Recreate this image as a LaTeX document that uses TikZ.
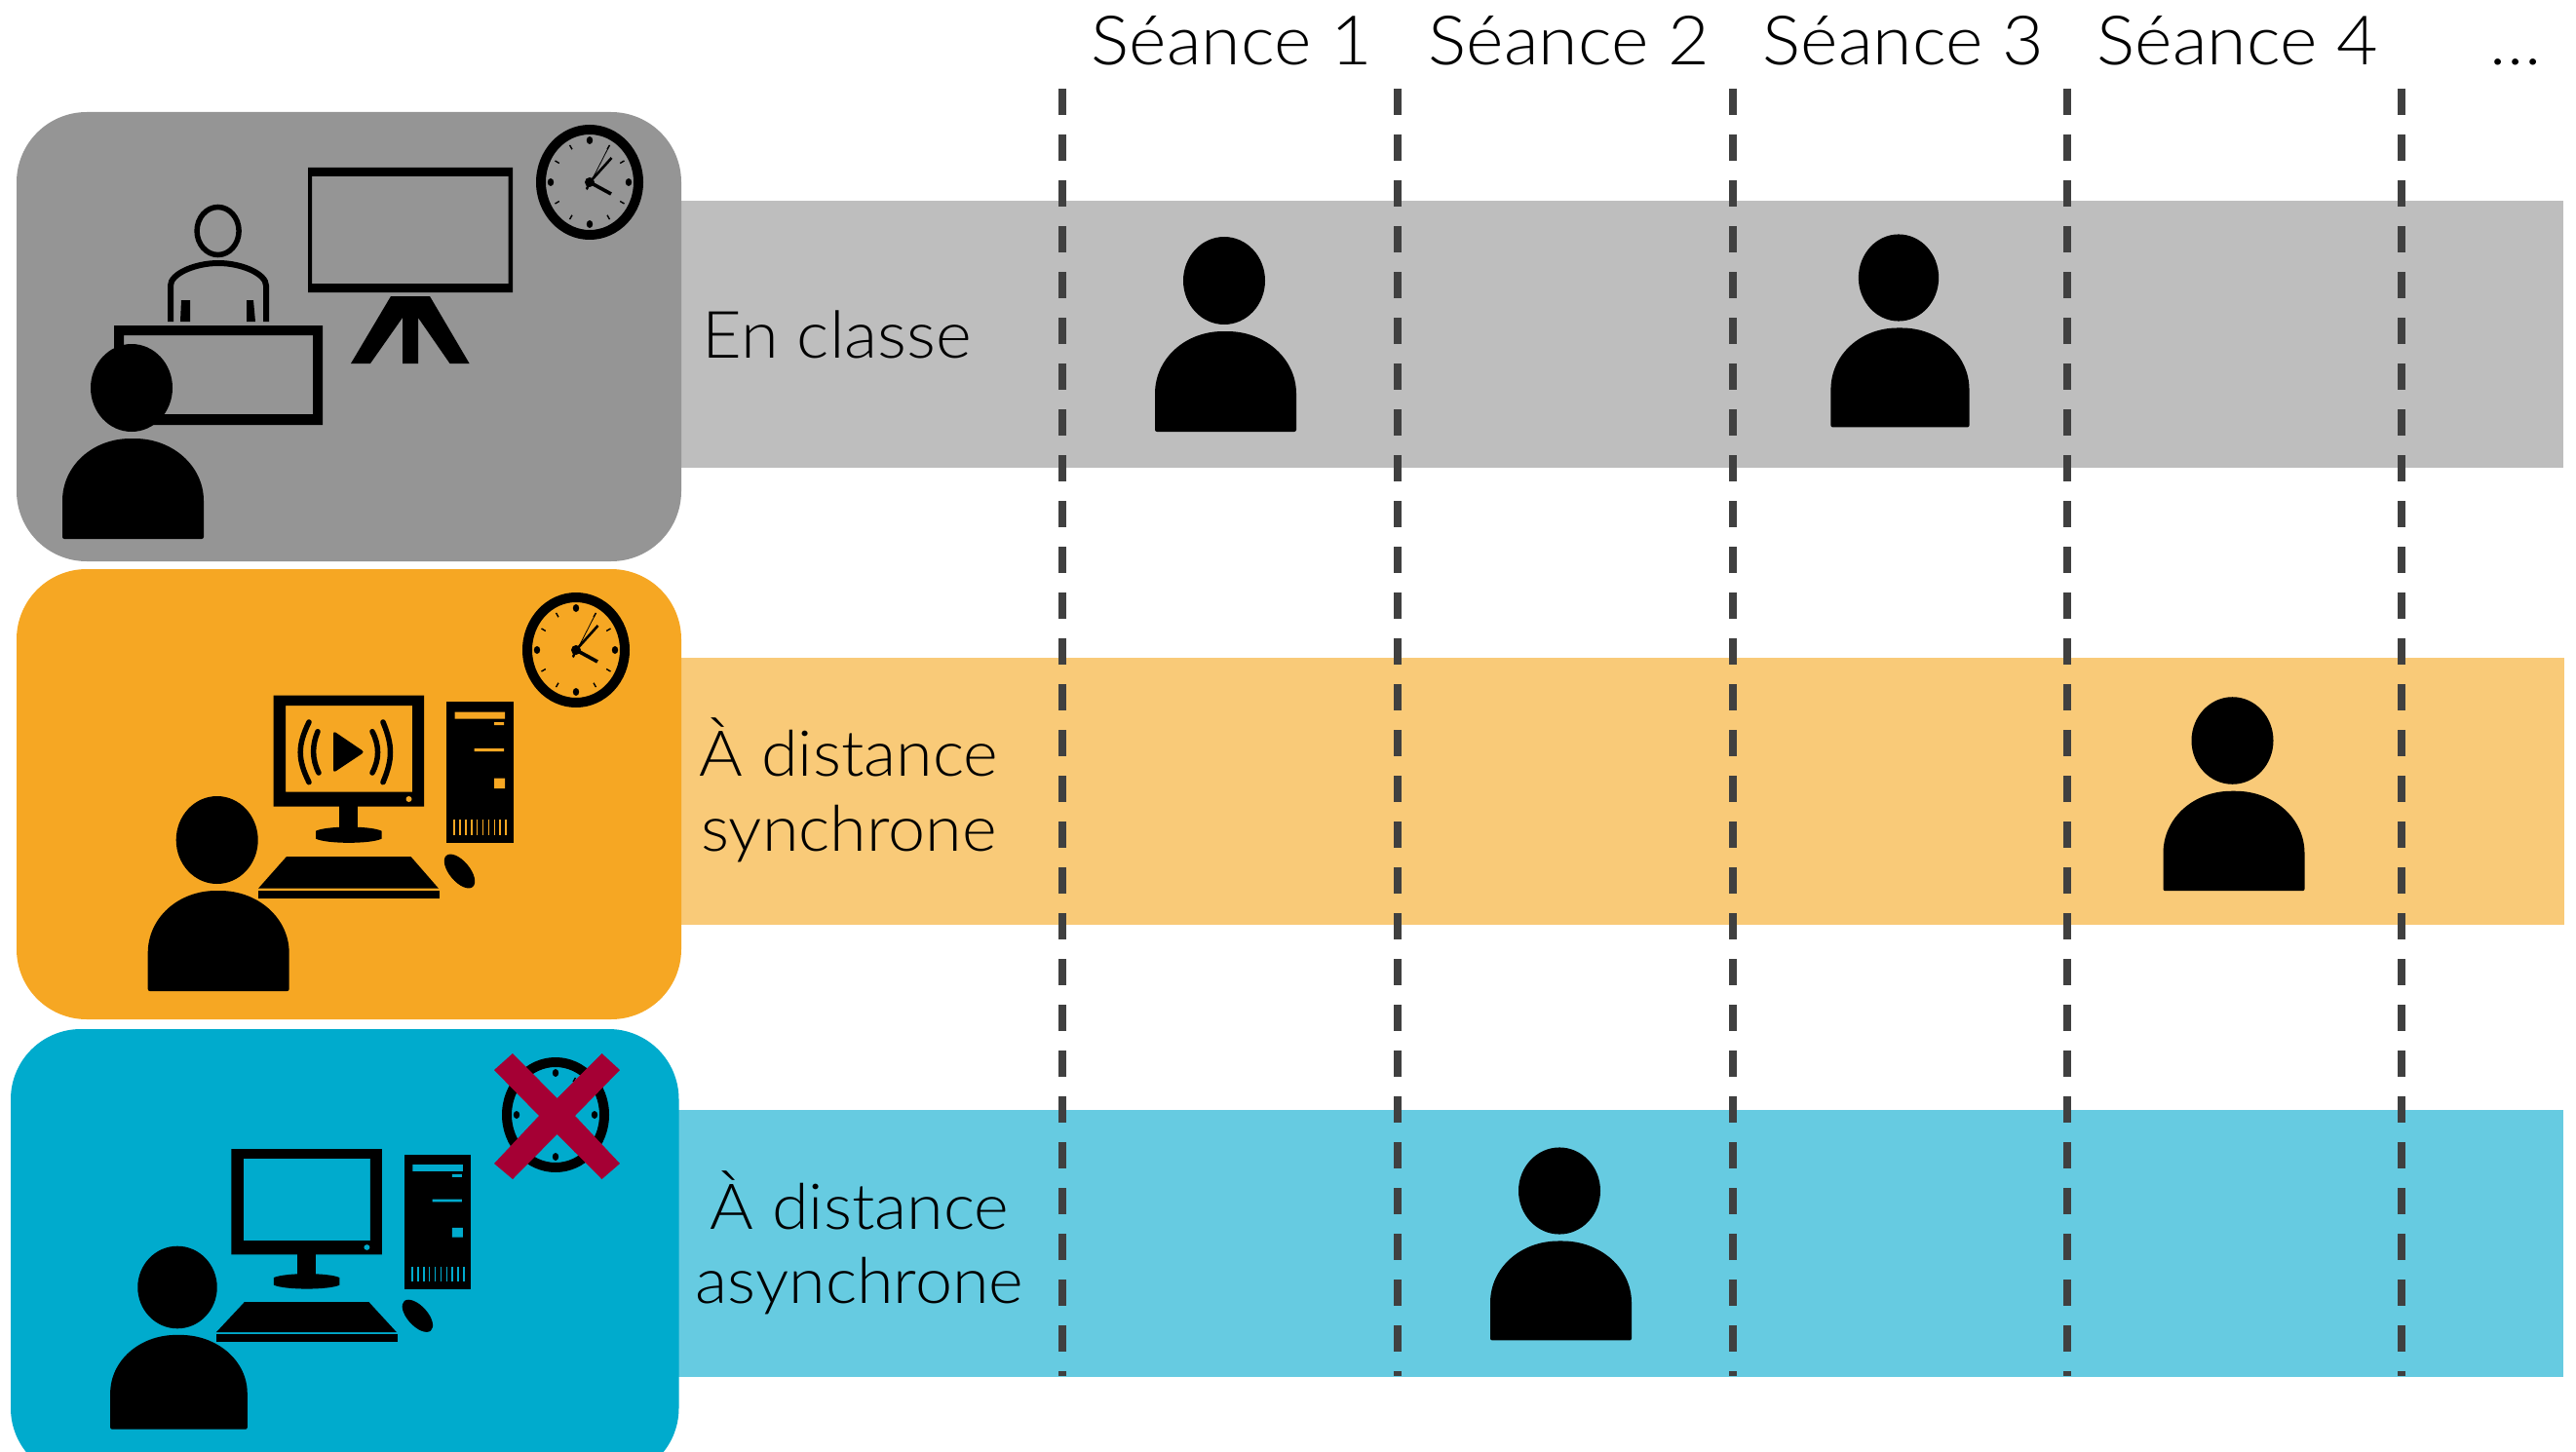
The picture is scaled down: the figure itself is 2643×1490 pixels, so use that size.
\documentclass[tikz,border=0pt]{standalone}
\usepackage{fontspec}
\setmainfont[FakeStretch=1.05]{Lato Light}
\definecolor{panelgray}{HTML}{959595}
\definecolor{bandgray}{HTML}{BEBEBE}
\definecolor{panelorange}{HTML}{F6A723}
\definecolor{bandorange}{HTML}{F9CA78}
\definecolor{panelblue}{HTML}{00ABCD}
\definecolor{bandblue}{HTML}{66CBE1}
\definecolor{crossred}{HTML}{A50034}
\definecolor{dashgray}{HTML}{404040}
\newcommand{\drawperson}[2]{%
 \begin{scope}[shift={(#1)},#2]
  \fill (0,0) ellipse [x radius=42,y radius=45];
  \fill[rounded corners=2] (-71,155) -- (-71,118) .. controls (-71,80) and (-40,52) .. (1,52) .. controls (42,52) and (74,80) .. (74,118) -- (74,155) -- cycle;
 \end{scope}}
\newcommand{\drawclock}[3]{%
 \begin{scope}[shift={(#1)}]
  \fill[even odd rule] (0,0) ellipse [x radius=55,y radius=59] (0,0) ellipse [x radius=45,y radius=49];
  \foreach \a in {0,90,180,270} \fill ({40*cos(\a)},{43*sin(\a)}) ellipse [x radius=3.2,y radius=4];
  \foreach \a in {30,60,120,150,210,240,300,330}
   \draw[line width=1.4] ({36*cos(\a)},{39*sin(\a)}) -- ({41*cos(\a)},{44*sin(\a)});
  #3
 \end{scope}}
\newcommand{\clockhands}{%
  \fill (0,0) circle [radius=5];
  \draw[line width=3.6] (0,0) -- (22,12);
  \draw[line width=2.6] (0,0) -- (22.5,-25);
  \draw[line width=.8] (-3,8) -- (20,-37);
  \draw[line width=2.4] (-3,7) -- (0,0);}
\newcommand{\drawcomputer}[3]{%
 \begin{scope}[shift={(#1)},yscale=#2]
  \fill[even odd rule] (0,0) rectangle (154.5,114) (12.5,10.3) rectangle (142.5,99);
  \fill[#3] (139,106.3) ellipse [x radius=3,y radius=3];
  \fill (67.5,113) rectangle (86.5,136);
  \fill (43.5,139) .. controls (55,133.5) and (100,133.5) .. (111,139) -- (111,147) .. controls (100,152.5) and (55,152.5) .. (43.5,147) -- cycle;
  \fill (177.5,6.3) rectangle (246,151.3);
  \fill[#3] (186,17) rectangle (237.5,24) (226.5,27.3) rectangle (236.5,30.3) (206.2,54.3) rectangle (236.5,57.3) (226.5,85) rectangle (237.5,95.3);
  \foreach \i in {0,...,9} \draw[#3,line width=1.6] ({185.5+\i*5.9},127) -- ({185.5+\i*5.9},143);
  \fill (13.5,165.3) -- (141,165.3) -- (169.5,198) -- (-15.5,198) -- cycle;
  \fill (-15.5,200.3) rectangle (170.5,208.3);
  \fill (191,180.3) ellipse [x radius=21,y radius=10.5,rotate=-50];
 \end{scope}}
\tikzset{
 dashline/.style={dashgray,line width=7.3,dash pattern=on 27 off 20},
 head/.style={anchor=base,font=\fontsize{70}{77}\selectfont},
 lab/.style={anchor=base,font=\fontsize{65}{77}\selectfont},
 labwide/.style={anchor=base,font=\fontsize{67}{77}\selectfont},
}
\begin{document}
\begin{tikzpicture}[x=1pt,y=-1pt]
\useasboundingbox (0,0) rectangle (2643,1490);
\clip (0,0) rectangle (2643,1490);
% bands
\fill[bandgray] (690,206) rectangle (2630,480);
\fill[bandorange] (690,675) rectangle (2631,949);
\fill[bandblue] (690,1139) rectangle (2630,1413);
% panels
\fill[panelgray,rounded corners=72] (17,115) rectangle (699,576);
\fill[panelorange,rounded corners=72] (17,584) rectangle (699,1046);
\fill[panelblue,rounded corners=72] (11,1056) rectangle (696.5,1517);
% dashed lines
\foreach \x in {1090,1434,1778,2121,2464} \draw[dashline] (\x,91) -- (\x,1412);
% headings
\node[head] (s1) at (1264,67) {Séance 1};
\node[head] (s2) at (1610,67) {Séance 2};
\node[head] (s3) at (1953,67) {Séance 3};
\node[head] (s4) at (2296,67) {Séance 4};
\node[head] (more) at (2581,67) {…};
% row labels
\node[labwide] (l1) at (859,367) {En classe};
\node[lab] (l2a) at (871,796) {À distance};
\node[lab] (l2b) at (871,873) {synchrone};
\node[lab] (l3a) at (882,1261) {À distance};
\node[lab] (l3b) at (882,1337) {asynchrone};
% session persons
\drawperson{1256,288}{}
\drawperson{1948,285}{xscale=.98,yscale=.99}
\drawperson{2290.5,760}{yscale=.995}
\drawperson{1600,1222}{yscale=.99}
% panel 1
\fill[even odd rule] (316,172) rectangle (526,300) (320,181) rectangle (521.6,291);
\fill (401,304) -- (441,304) -- (481.6,373) -- (461.5,373) -- (429,326) -- (429,373) -- (413,373) -- (413,326) -- (380,373) -- (360,373) -- cycle;
\fill[even odd rule] (117,334) rectangle (331,436) (127,344) rectangle (321,425);
\draw[line width=5.5] (223.6,237) ellipse [x radius=21.5,y radius=24.5];
\draw[line width=6] (175,330) -- (175,293) .. controls (175,281) and (200,270) .. (224,270) .. controls (248,270) and (273,281) .. (273,293) -- (273,330);
\fill (186,308) -- (195,308) -- (195,330) -- (185,330) -- cycle;
\fill (253,308) -- (260,308) -- (262,330) -- (253,330) -- cycle;
\drawperson{135,398}{}
\drawclock{605,187}{panelgray}{\clockhands}
% panel 2
\drawcomputer{280.5,713.7}{1}{panelorange}
\fill[rounded corners=3] (342,750) -- (374,771.7) -- (342,793) -- cycle;
\foreach \a/\b/\c in {326/320/327,317/305.3/317,382/389.4/382,393/403/393}
 \draw[line width=5.5,line cap=round] (\a,{\a==326 || \a==382 ? 750.7 : 741}) .. controls (\b,765) and (\b,779) .. (\c,{\a==326 || \a==382 ? 793 : 802.7});
\drawperson{222.7,862}{}
\drawclock{591,667}{panelorange}{\clockhands}
% panel 3
\drawcomputer{237.4,1179}{.95}{panelblue}
\drawperson{182,1321}{xscale=.97,yscale=.94}
\drawclock{570,1144}{panelblue}{\draw[line width=3] (-22,19) -- (-10,14);}
\fill[crossred] (526,1081) -- (571.6,1127) -- (617.5,1081) -- (636,1098) -- (590,1145) -- (636,1194) -- (617.5,1210) -- (571.6,1164) -- (526,1210) -- (507,1194) -- (553,1145) -- (507,1098) -- cycle;
\end{tikzpicture}
\end{document}
